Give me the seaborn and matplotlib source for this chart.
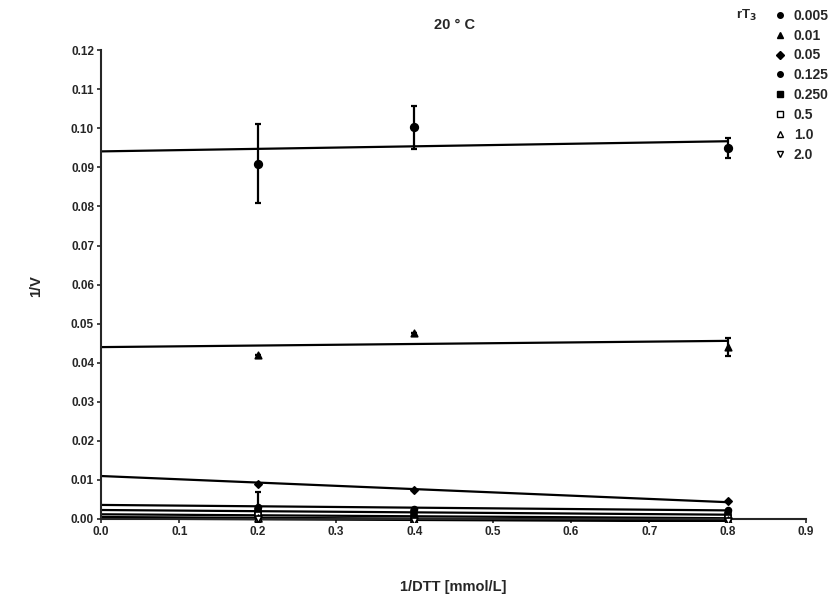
import numpy as np
import pandas as pd
import matplotlib
matplotlib.use("Agg")
import matplotlib.pyplot as plt
import seaborn as sns
from matplotlib.lines import Line2D

sns.set_style("ticks")
plt.rcParams.update({
    'font.family': ['Liberation Sans', 'DejaVu Sans'],
    'font.weight': 'bold',
    'axes.labelweight': 'bold',
    'font.size': 8,
})

# data
concs = ['0.005', '0.01', '0.05', '0.125', '0.250', '0.5', '1.0', '2.0']
dtt = [0.2, 0.4, 0.8]
inv_v = {
    '0.005': [0.0910, 0.1003, 0.0950],
    '0.01':  [0.0420, 0.0475, 0.0440],
    '0.05':  [0.0090, 0.0075, 0.0045],
    '0.125': [0.0030, 0.0025, 0.0022],
    '0.250': [0.0020, 0.0015, 0.0010],
    '0.5':   [0.0010, -0.0002, 0.0003],
    '1.0':   [0.0003, -0.0002, -0.0003],
    '2.0':   [0.0000, -0.0004, -0.0005],
}
inv_v_err = {
    '0.005': [0.0100, 0.0055, 0.0025],
    '0.01':  [0.0, 0.0, 0.0023],
    '0.125': [0.0038, 0.0, 0.0],
}
# regression lines: value at 1/DTT = 0 and at 1/DTT = 0.8
fit_x = [0.0, 0.8]
fit_start = [0.0941, 0.0440, 0.0110, 0.0036, 0.0023, 0.0012, 0.0005, 0.0001]
fit_end = [0.0967, 0.0456, 0.0043, 0.0022, 0.0011, 0.0002, -0.0003, -0.0006]

markers = {'0.005': 'o', '0.01': '^', '0.05': 'D', '0.125': 'o',
           '0.250': 's', '0.5': 's', '1.0': '^', '2.0': 'v'}
filled = {'0.5': False, '1.0': False, '2.0': False}
sizes = {'0.005': 30, '0.01': 22, '0.05': 14, '0.125': 18, '0.250': 25,
         '0.5': 22, '1.0': 25, '2.0': 25}

pts = pd.DataFrame([(c, x, y) for c in concs for x, y in zip(dtt, inv_v[c])],
                   columns=['rT3', 'x', 'y'])
fits = pd.DataFrame([(c, fx, fy) for c, s, e in zip(concs, fit_start, fit_end)
                     for fx, fy in zip(fit_x, [s, e])], columns=['rT3', 'x', 'y'])

fig = plt.figure(figsize=(8.38, 6.05), dpi=100)
ax = fig.add_axes([0.1205, 0.137, 0.8415, 0.78])

sns.lineplot(data=fits, x='x', y='y', units='rT3', estimator=None,
             color='black', linewidth=1.6, ax=ax, legend=False)

for c in concs:
    sub = pts[pts['rT3'] == c]
    if c in inv_v_err:
        ax.errorbar(sub['x'], sub['y'], yerr=inv_v_err[c], fmt='none',
                    ecolor='black', elinewidth=1.6, capsize=2.5, capthick=1.6)
    fc = 'white' if c in filled else 'black'
    sns.scatterplot(x=sub['x'], y=sub['y'], marker=markers[c], s=sizes[c],
                    color=fc, edgecolor='black', linewidth=1.2, ax=ax, zorder=5)

ax.set_xlim(0, 0.9)
ax.set_ylim(-0.0008, 0.12)
ax.set_xticks(np.arange(0, 0.91, 0.1))
ax.set_yticks(np.arange(0, 0.121, 0.01))
ax.set_xticklabels([f'{v:.1f}' for v in np.arange(0, 0.91, 0.1)])
ax.set_yticklabels([f'{v:.2f}' for v in np.arange(0, 0.121, 0.01)])
ax.spines['bottom'].set_position(('data', 0))
ax.spines['left'].set_bounds(0, 0.12)
sns.despine(ax=ax)
for sp in ['left', 'bottom']:
    ax.spines[sp].set_linewidth(1.5)
ax.tick_params(width=1.2, length=3, labelsize=8.5, pad=2)

ax.set_xlabel('1/DTT [mmol/L]', fontsize=10.5, labelpad=30)
ax.set_ylabel('1/V', fontsize=10.5, labelpad=20)
fig.text(0.543, 0.958, '20 ° C', fontsize=10.5, fontweight='bold', ha='center', va='center')

handles = [Line2D([], [], linestyle='none', marker=markers[c], markersize=4,
                  markerfacecolor='white' if c in filled else 'black',
                  markeredgecolor='black', markeredgewidth=1.0) for c in concs]
fig.legend(handles, concs, loc='upper left', bbox_to_anchor=(0.916, 0.997),
           frameon=False, handlelength=0.8, handletextpad=0.6, labelspacing=0.42,
           borderpad=0, prop={'weight': 'bold', 'size': 10})
fig.text(0.903, 0.975, 'rT$_3$', fontsize=9.5, fontweight='bold', ha='right', va='center')

fig.savefig('out.png', dpi=100)
